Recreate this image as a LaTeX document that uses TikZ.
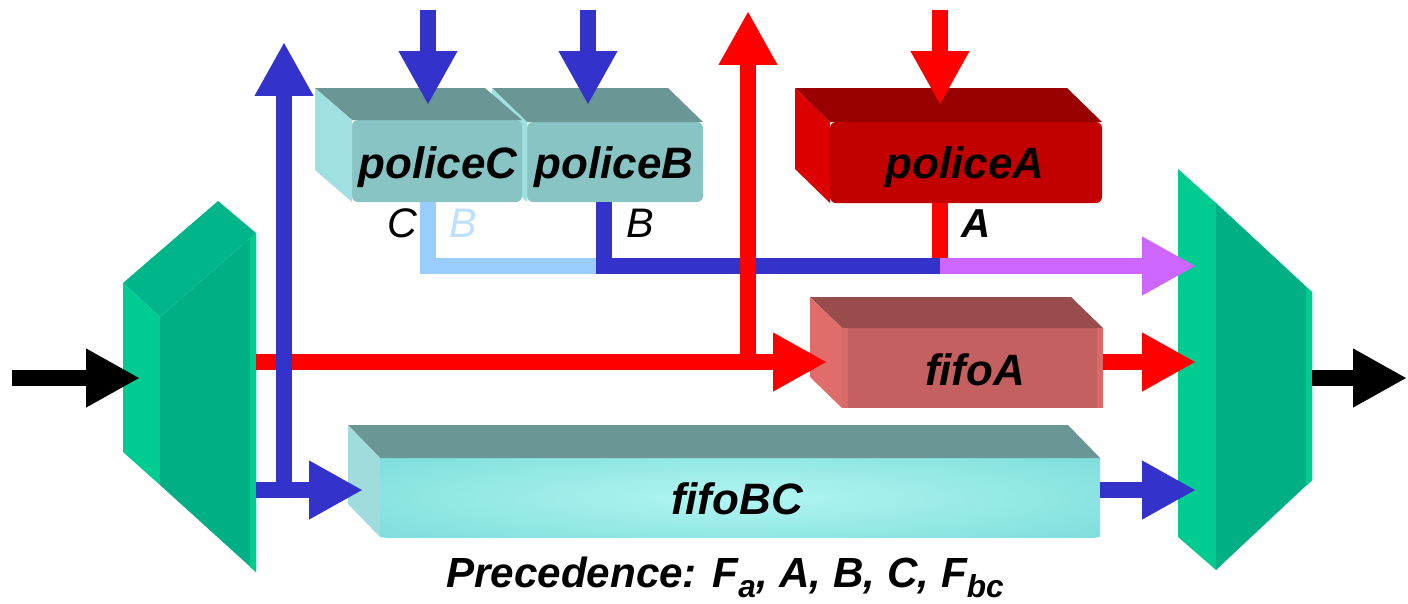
\documentclass[tikz,border=0pt]{standalone}
\usepackage{fontspec}
\setmainfont{Liberation Sans}
\usetikzlibrary{arrows.meta,calc,fit}

\definecolor{flowblue}{HTML}{3333CC}
\definecolor{flowred}{HTML}{FF0000}
\definecolor{flowpurple}{HTML}{CC66FF}
\definecolor{flowlight}{HTML}{99CCFF}
\definecolor{greenside}{HTML}{00CC92}
\definecolor{greenfront}{HTML}{00B084}
\definecolor{greentop}{HTML}{00B589}
\definecolor{tealtop}{HTML}{6A9696}
\definecolor{tealside}{HTML}{A0E0E0}
\definecolor{tealfront}{HTML}{88C4C4}
\definecolor{redtop}{HTML}{990000}
\definecolor{redside}{HTML}{DD0000}
\definecolor{redfront}{HTML}{C20000}
\definecolor{rosetop}{HTML}{994C4C}
\definecolor{roseside}{HTML}{E06C6C}
\definecolor{rosefront}{HTML}{C46060}
\definecolor{roseedge}{HTML}{D86A6A}
\definecolor{cyanedge}{HTML}{7EDEDC}
\definecolor{cyanmid}{HTML}{B2F6F2}
\definecolor{cyanside}{HTML}{A0DCDC}
\definecolor{ghostB}{HTML}{BFDFFF}

\tikzset{
  flow/.style={line width=0.32cm},
  head/.style={-{Triangle[length=1.08cm,width=1.1cm]}},
  face/.style={inner sep=0pt, outer sep=0pt},
  boxtext/.style={font=\fontsize{25}{29}\selectfont\bfseries\itshape, anchor=base, inner sep=0pt},
  tag/.style={font=\fontsize{23.5}{27}\selectfont\itshape, anchor=base, inner sep=0pt},
}

% top and left faces of a slab whose front face is node #1
\newcommand\slabfaces[5]{%
  \fill[#2] (#1.north west) -- ++(#4,#5) -- ($(#1.north east)+(#4,#5)$) -- (#1.north east) -- cycle;
  \fill[#3] (#1.north west) -- ++(#4,#5) -- ($(#1.south west)+(#4,#5)$) -- (#1.south west) -- cycle;
}
\newcommand\lowsub[1]{\raisebox{-0.25em}{\fontsize{18}{20}\selectfont #1}}

\begin{document}
\begin{tikzpicture}[x=0.02cm,y=-0.02cm]
\useasboundingbox (0,0) rectangle (1408,603);

% ---- demultiplexer (left prism)
\fill[greentop] (123,283) -- (218,201) -- (256,233) -- (160,317) -- cycle;
\fill[greenside] (123,283) -- (160,317) -- (160,485) -- (123,452) -- cycle;
\fill[greenfront] (160,317) -- (256,233) -- (256,572) -- (160,485) -- cycle;
\fill[greenside] (250,238) -- (256,233) -- (256,572) -- (250,567) -- cycle;
\node[face, fit={(123,201) (256,572)}] (demux) {};

% ---- multiplexer (right prism)
\fill[greenside] (1178,169) -- (1216,203) -- (1216,570) -- (1178,537) -- cycle;
\fill[greenfront] (1216,203) -- (1312,292) -- (1312,480) -- (1216,570) -- cycle;
\fill[greenside] (1306,287) -- (1312,292) -- (1312,480) -- (1306,486) -- cycle;
\node[face, fit={(1178,169) (1312,570)}] (mux) {};

% ---- policers
\node[face, fill=tealfront, rounded corners=0.12cm, fit={(527,122) (703,202)}] (pB) {};
\slabfaces{pB}{tealtop}{tealside}{-35}{-34}
\node[face, fill=tealfront, rounded corners=0.12cm, fit={(352,120) (522,202)}] (pC) {};
\slabfaces{pC}{tealtop}{tealside}{-37}{-32}
\node[face, fill=redfront, rounded corners=0.12cm, fit={(830,122) (1102,203)}] (pA) {};
\slabfaces{pA}{redtop}{redside}{-35}{-34}

% ---- queues
\node[face, fill=rosefront, fit={(842,328) (1103,408)}] (fA) {};
\slabfaces{fA}{rosetop}{roseside}{-32}{-31}
\fill[roseedge] (fA.north west) rectangle ++(6,80);
\fill[roseedge] (fA.north east) rectangle ++(-6,80);

\node[face, fill=cyanedge, fit={(380,458) (1100,537)}] (fBC) {};
\begin{scope}
  \clip (fBC.north west) rectangle (fBC.south east);
  \shade[inner color=cyanmid, outer color=cyanedge] (740,497) ellipse [x radius=470, y radius=62];
\end{scope}
\slabfaces{fBC}{tealtop}{cyanside}{-32}{-33}

% ---- labels of the boxes
\node[boxtext] (tC) at (438,178) {policeC};
\node[boxtext] (tB) at (614,178) {policeB};
\node[boxtext] (tA) at (965,178) {policeA};
\node[boxtext] (tfA) at (975,385) {fifoA};
\node[boxtext] (tfBC) at (737,514) {fifoBC};

% ---- port coordinates
\coordinate (inStart) at (12,378);
\coordinate (inEnd) at (140,378);
\coordinate (outStart) at (1312,378);
\coordinate (outEnd) at (1407,378);
\coordinate (jC) at (428,266);
\coordinate (jB) at (604,266);
\coordinate (jA) at (940,266);
\coordinate (jAtop) at (940,258);
\coordinate (muxP) at (1196,266);
\coordinate (muxR) at (1196,362);
\coordinate (muxB) at (1196,490);
\coordinate (redRow) at (256,362);
\coordinate (redTip) at (827,362);
\coordinate (redBranch) at (748,362);
\coordinate (redUp) at (748,11);
\coordinate (blueRow) at (256,490);
\coordinate (blueTip) at (363,490);
\coordinate (blueBranch) at (284,490);
\coordinate (blueUp) at (284,42);
\coordinate (inC) at (428,10);
\coordinate (inB) at (588,10);
\coordinate (inA) at (940,10);

% ---- policer outputs
\draw[flow, flowlight] (pC.south -| jC) -- (jC) -- (jB);
\draw[flow, flowblue] (pB.south -| jB) -- (jB) -- (jA);
\draw[flow, flowpurple, head] (jA) -- (muxP);
\draw[flow, flowred] (pA.south -| jA) -- (jAtop);

% ---- demultiplexer outputs
\draw[flow, flowred, head] (redRow) -- (redTip);
\draw[flow, flowred, head] (redBranch) -- (redUp);
\draw[flow, flowblue, head] (blueRow) -- (blueTip);
\draw[flow, flowblue, head] (blueBranch) -- (blueUp);

% ---- policer inputs
\draw[flow, flowblue, head] (inC) -- (inC |- 0,105);
\draw[flow, flowblue, head] (inB) -- (inB |- 0,105);
\draw[flow, flowred, head] (inA) -- (inA |- 0,105);

% ---- queue outputs
\draw[flow, flowred, head] (fA.east |- muxR) -- (muxR);
\draw[flow, flowblue, head] (fBC.east |- muxB) -- (muxB);

% ---- link in and out
\draw[flow, black, head] (inStart) -- (inEnd);
\draw[flow, black, head] (outStart) -- (outEnd);

% ---- colour tags
\node[tag] (lC) at (402,237) {C};
\node[tag, text=ghostB] (lBg) at (463,237) {B};
\node[tag] (lB) at (640,237) {B};
\node[tag, font=\fontsize{23}{27}\selectfont\bfseries\itshape] (lA) at (976,237) {A};

% ---- caption
\node[anchor=base, inner sep=0pt, font=\fontsize{24}{28}\selectfont\bfseries\itshape] (prec) at (725,587)
  {Precedence: F\lowsub{a}, A, B, C, F\lowsub{bc}};
\end{tikzpicture}
\end{document}
